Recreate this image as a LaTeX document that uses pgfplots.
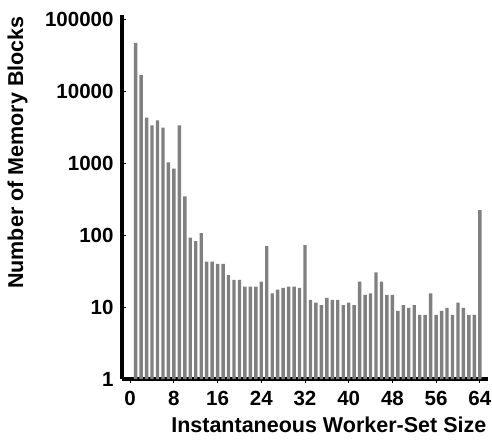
\documentclass[border=0pt]{standalone}
\usepackage{pgfplots}
\pgfplotsset{compat=1.18}
\usepackage{fontspec}
\setmainfont{Liberation Sans}
\definecolor{bargray}{RGB}{128,128,128}
\begin{document}
\begin{tikzpicture}
\path[use as bounding box] (-122pt,-65pt) rectangle (370pt,379pt);
\begin{axis}[
  scale only axis,
  width=366pt, height=364pt,
  ymode=log,
  xmin=-1.5, xmax=65.5,
  ymin=1, ymax=117000,
  axis x line*=bottom, axis y line*=left,
  axis line style={line width=4pt,-},
  xtick={0,8,16,24,32,40,48,56,64},
  xticklabels={\textbf{0},\textbf{8},\textbf{16},\textbf{24},\textbf{32},\textbf{40},\textbf{48},\textbf{56},\textbf{64}},
  ytick={1,10,100,1000,10000,100000},
  yticklabels={\textbf{1},\textbf{10},\textbf{100},\textbf{1000},\textbf{10000},\textbf{100000}},
  yminorticks=false, xminorticks=false,
  tick align=inside,
  major tick length=4pt,
  major tick style={line width=0.8pt,black},
  ticklabel style={font=\fontsize{20.5}{24}\selectfont\bfseries},
  yticklabel style={xshift=-5pt},
  xticklabel style={yshift=-5pt},
  label style={font=\fontsize{21.5}{25}\selectfont\bfseries},
  xlabel={Instantaneous Worker-Set Size},
  ylabel={Number of Memory Blocks},
  xlabel style={at={(axis description cs:0.565,0)}, anchor=center, yshift=-46pt},
  ylabel style={at={(axis description cs:-0.285,0.622)}, anchor=center},
  ybar, bar width=0.62,
  clip=false,
]
\addplot[fill=bargray, draw=none] table {
x y
1 48000
2 17000
3 4350
4 3400
5 4000
6 3150
7 1040
8 850
9 3400
10 350
11 93
12 83
13 107
14 43
15 43
16 40
17 40
18 28
19 24
20 24
21 19.3
22 19.3
23 19.3
24 22.6
25 71
26 15.6
27 17.5
28 18.5
29 19.3
30 19.3
31 18.5
32 73
33 12.6
34 11.6
35 10.7
36 13.5
37 12.6
38 12.6
39 10.7
40 11.6
41 10.7
42 22.6
43 14.8
44 15.6
45 30.6
46 22.6
47 14.8
48 14.8
49 8.9
50 10.7
51 9.8
52 10.7
53 7.8
54 7.8
55 15.6
56 7.8
57 8.9
58 9.8
59 7.8
60 11.6
61 9.8
62 7.8
63 7.8
64 224
};
\end{axis}
\end{tikzpicture}
\end{document}
